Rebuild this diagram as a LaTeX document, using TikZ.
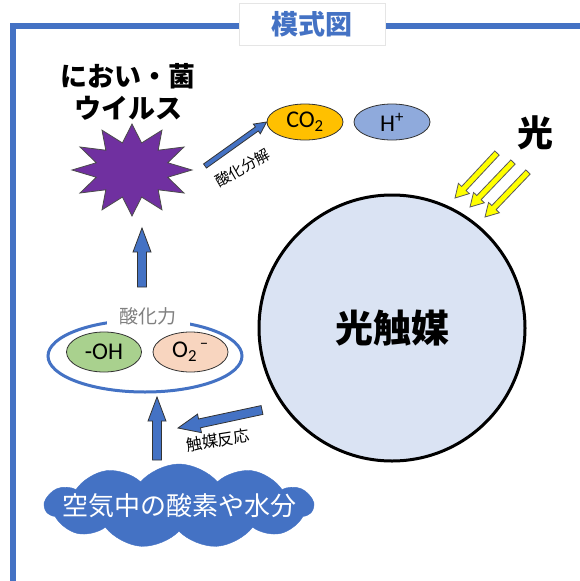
\documentclass[tikz,border=0pt]{standalone}
\usepackage{fontspec}
\setmainfont{Noto Sans CJK JP}
\newfontfamily\lat{Carlito}
\usetikzlibrary{shapes.geometric,shapes.symbols,calc}
\definecolor{mblue}{HTML}{4472C4}
\definecolor{spurple}{HTML}{7030A0}
\definecolor{gold}{HTML}{FFC000}
\definecolor{hblue}{HTML}{8FAADC}
\definecolor{ohgreen}{HTML}{A9D18E}
\definecolor{peach}{HTML}{F8D5BF}
\definecolor{catfill}{HTML}{DAE3F3}
\definecolor{lyellow}{HTML}{FFFF00}
\newcommand\blockarrow[6][]{%
  \coordinate (ba-n) at ($(#3)!#6!(#2)$);
  \draw[#1] ($(#2)!#4!90:(#3)$) -- ($(ba-n)!#4!-90:(#2)$) -- ($(ba-n)!#5!-90:(#2)$) -- (#3)
    -- ($(ba-n)!#5!90:(#2)$) -- ($(ba-n)!#4!90:(#2)$) -- ($(#2)!#4!-90:(#3)$) -- cycle;}
\tikzset{
  bluearrow/.style={fill=mblue, draw=black!80, line width=0.8pt, line join=miter},
  yelarrow/.style={fill=lyellow, draw=black!65, line width=0.8pt},
  ell/.style={ellipse, draw=black!80, line width=0.8pt, minimum width=76pt, minimum height=36pt, inner sep=0pt, font=\lat\fontsize{24}{24}\selectfont},
  bigtext/.style={font=\bfseries\fontsize{#1}{#1}\selectfont},
  smalllabel/.style={font=\fontsize{15}{15}\selectfont, inner sep=0pt}
}
\begin{document}
\begin{tikzpicture}[x=1pt,y=-1pt]
\useasboundingbox (0,0) rectangle (580,581);
\fill[white] (0,0) rectangle (580,581);
% frame
\coordinate (f1) at (13,581);
\coordinate (f2) at (13,25.5);
\coordinate (f3) at (580,25.5);
\draw[mblue, line width=6pt] (f1) -- (f2) -- (f3);
\node[fill=white, draw=black!10, minimum width=146pt, minimum height=42pt, bigtext=27, text=mblue] (title) at (312,24) {模式図};
% germs
\node[font=\bfseries\fontsize{27}{32}\selectfont, align=center] (germs) at (128,92) {におい・菌\\ウイルス};
\draw[fill=spurple, draw=black!70, line width=0.8pt, shift={(132,170)}]
  (90:60 and 46) \foreach \a in {0,30,...,300} { -- (105+\a:37 and 28) -- (120+\a:60 and 46)} -- (75:37 and 28) -- cycle;
\coordinate (starR) at (205,166);
% products
\node[ell, fill=gold] (co2) at (305,122) {CO\textsubscript{2}};
\node[ell, fill=hblue] (hp) at (392,122) {H\textsuperscript{+}};
\blockarrow[bluearrow]{starR}{co2.west}{2.5pt}{6pt}{12pt}
\node[smalllabel, rotate=30] (lbl1) at (243,168) {酸化分解};
% light
\node[bigtext=36] (light) at (535,133) {光};
\coordinate (y1a) at (497,153); \coordinate (y1b) at (455,198);
\coordinate (y2a) at (513,162); \coordinate (y2b) at (470,207);
\coordinate (y3a) at (528,172); \coordinate (y3b) at (485,217);
\blockarrow[yelarrow]{y1a}{y1b}{3pt}{7.5pt}{13pt}
\blockarrow[yelarrow]{y2a}{y2b}{3pt}{7.5pt}{13pt}
\blockarrow[yelarrow]{y3a}{y3b}{3pt}{7.5pt}{13pt}
% photocatalyst
\node[circle, draw=black, line width=3pt, fill=catfill, minimum size=266pt, bigtext=38] (cat) at (392,328) {光触媒};
% oxidizing power
\node[ellipse, draw=mblue, line width=3pt, minimum width=194pt, minimum height=72pt] (ox) at (145,356) {};
\node[fill=white, inner xsep=13pt, inner ysep=2pt, text=black!50, font=\fontsize{19}{19}\selectfont] (oxl) at (148,316) {酸化力};
\node[ell, fill=ohgreen, minimum width=75pt, minimum height=40pt] (oh) at (104,352) {-OH};
\node[ell, fill=peach, minimum width=75pt, minimum height=40pt] (o2) at (190.5,352) {O\textsubscript{2}\textsuperscript{\,–}};
% arrows
\coordinate (a1a) at (142,287); \coordinate (a1b) at (142,228);
\blockarrow[bluearrow]{a1a}{a1b}{4.5pt}{9pt}{24pt}
\coordinate (a2a) at (157,460); \coordinate (a2b) at (157,397);
\blockarrow[bluearrow]{a2a}{a2b}{4.5pt}{9pt}{24pt}
\coordinate (a3a) at (262,410); \coordinate (a3b) at (178,428);
\blockarrow[bluearrow]{a3a}{a3b}{4.5pt}{9.5pt}{22pt}
\node[smalllabel, font=\fontsize{16}{16}\selectfont, rotate=9] (lbl2) at (218,440) {触媒反応};
% cloud
\node[cloud, cloud puffs=11, cloud puff arc=100, cloud ignores aspect, minimum width=268pt, minimum height=84pt, fill=mblue, draw=mblue, inner sep=0pt] (air) at (179,506) {};
\node[text=white, font=\fontsize{26}{26}\selectfont] (airt) at (air.center) {空気中の酸素や水分};
\end{tikzpicture}
\end{document}
